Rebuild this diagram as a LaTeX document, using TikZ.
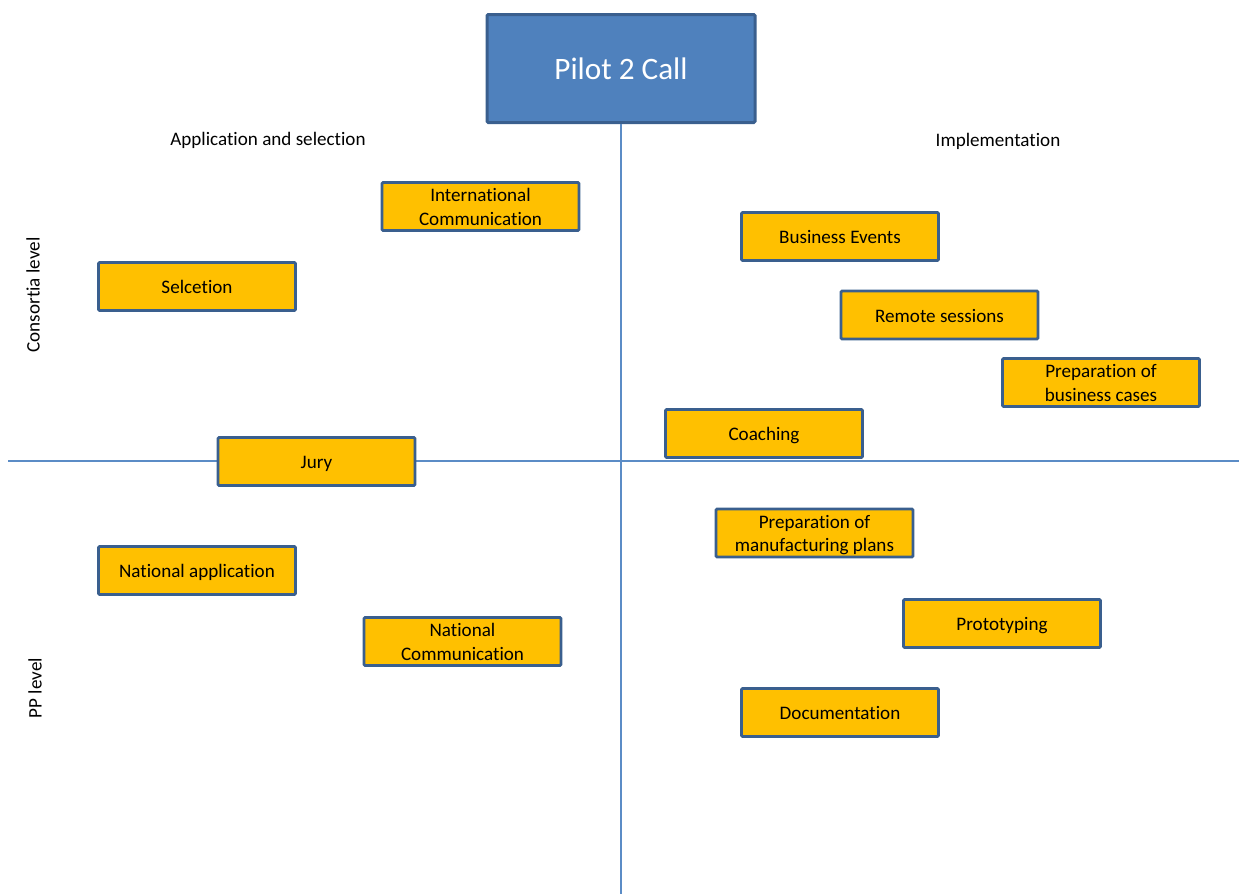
\documentclass[tikz,border=0pt]{standalone}
\usepackage{fontspec}
\setmainfont{Carlito}[Ligatures=NoCommon]
\definecolor{boxfill}{HTML}{FFC000}
\definecolor{boxline}{HTML}{3A5F8E}
\definecolor{titlefill}{HTML}{4F81BD}
\definecolor{axisline}{HTML}{5B8CC6}
\newcommand\lnstrut{\rule[-4pt]{0pt}{22pt}}
\begin{document}
\begin{tikzpicture}[x=1pt,y=-1pt,
  taskbox/.style={draw=boxline, fill=boxfill, line width=2.8pt, rounded corners=1.2pt,
    minimum width=197pt, minimum height=48pt, inner sep=0pt, align=center,
    font=\fontsize{19.1}{23.3}\selectfont, text=black},
  titlebox/.style={draw=boxline, fill=titlefill, line width=3pt, rounded corners=1.2pt,
    minimum width=268pt, minimum height=108pt, inner sep=0pt,
    font=\fontsize{31.2}{38}\selectfont, text=white},
  lbl/.style={font=\fontsize{19.1}{23.3}\selectfont, text=black, inner sep=0pt},
  axis/.style={draw=axisline, line width=1.5pt}]
\useasboundingbox (0,0) rectangle (1239,894);
% title
\node[titlebox] (pilot) at (621,68.5) {Pilot 2 Call};
% axes
\coordinate (hl) at (8,461);
\coordinate (hr) at (1239,461);
\coordinate (vb) at (621,894);
\draw[axis] (hl) -- (hr);
\draw[axis] (pilot.south) -- (vb);
% labels
\node[lbl] (appsel) at (268,140.5) {Application and selection};
\node[lbl] (impl) at (998,141.5) {Implementation};
\node[lbl, rotate=90] (cons) at (33,295) {Consortia level};
\node[lbl, rotate=90] (pp) at (35,688) {PP level};
% boxes
\node[taskbox] (intcomm) at (480.5,206.5) {\lnstrut International\\\lnstrut Communication};
\node[taskbox] (selc) at (197,286.5) {\lnstrut Selcetion};
\node[taskbox] (jury) at (316.5,461.5) {\lnstrut Jury};
\node[taskbox] (natapp) at (197,570.5) {\lnstrut National application};
\node[taskbox] (natcomm) at (462.5,641.5) {\lnstrut National\\\lnstrut Communication};
\node[taskbox] (biz) at (840,236.5) {\lnstrut Business Events};
\node[taskbox] (remote) at (939.5,315) {\lnstrut Remote sessions};
\node[taskbox] (prepbiz) at (1101,382.5) {\lnstrut Preparation of\\\lnstrut business cases};
\node[taskbox] (coach) at (764,433.5) {\lnstrut Coaching};
\node[taskbox] (prepman) at (814.5,533) {\lnstrut Preparation of\\\lnstrut manufacturing plans};
\node[taskbox] (proto) at (1002,623.5) {\lnstrut Prototyping};
\node[taskbox] (doc) at (840,712.5) {\lnstrut Documentation};
\end{tikzpicture}
\end{document}
